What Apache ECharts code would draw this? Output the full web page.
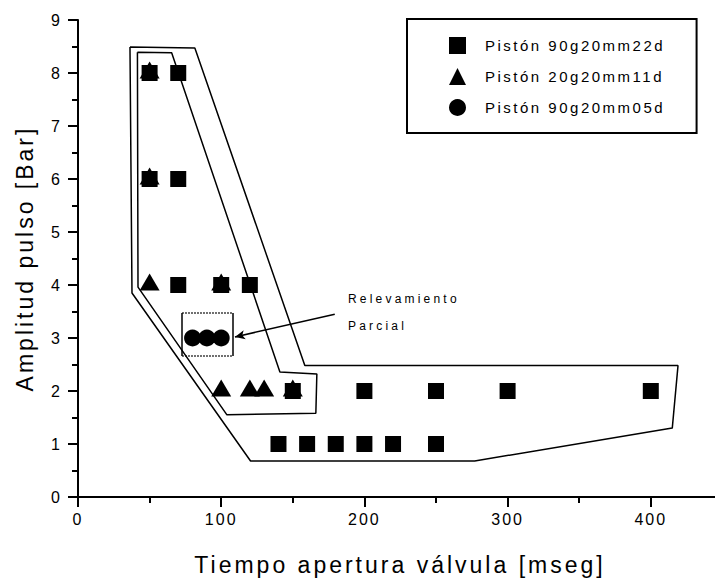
<!DOCTYPE html>
<html>
<head>
<meta charset="utf-8">
<script src="https://cdn.jsdelivr.net/npm/echarts@6/dist/echarts.min.js"></script>
<style>
html, body { margin: 0; padding: 0; background: #fff; }
#main { width: 715px; height: 585px; }
/* el grafico original (Origin) tiene el texto muy espaciado */
#main text { letter-spacing: 2px; }
#main text[style*="12px"] { letter-spacing: 3.2px; }
#main text[style*="15px"] { letter-spacing: 2.5px; }
#main text[style*="23px"] { letter-spacing: 3px; }
</style>
</head>
<body>
<div id="main"></div>
<script>
// Pistón 90g20mm22d (cuadrados)
var squareX = [50, 70, 50, 70, 70, 100, 120, 150, 200, 250, 300, 400, 140, 160, 180, 200, 220, 250];
var squareY = [8, 8, 6, 6, 4, 4, 4, 2, 2, 2, 2, 2, 1, 1, 1, 1, 1, 1];
// Pistón 20g20mm11d (triangulos)
var triangleX = [50, 50, 50, 100, 100, 120, 130, 150];
var triangleY = [8, 6, 4, 4, 2, 2, 2, 2];
// Pistón 90g20mm05d (circulos)
var circleX = [80, 90, 100];
var circleY = [3, 3, 3];

var seriesNames = ['Pistón 90g20mm22d', 'Pistón 20g20mm11d', 'Pistón 90g20mm05d'];

// envolventes dibujadas a mano
var outerX = [36.3, 81.6, 158.4, 419, 415, 277, 120.5, 37.7, 36.3];
var outerY = [8.49, 8.47, 2.48, 2.48, 1.30, 0.68, 0.68, 3.85, 8.49];
var innerX = [41.5, 65.4, 141, 166.8, 166.1, 104, 41.9, 41.5];
var innerY = [8.39, 8.38, 2.36, 2.32, 1.58, 1.55, 3.96, 8.39];

// recuadro punteado y flecha del "Relevamiento Parcial"
var boxX = [72.8, 108.4];
var boxY = [2.66, 3.47];
var arrowX = [179.3, 109.6];
var arrowY = [3.45, 3.02];

var fontFamily = 'Liberation Sans, Arial, sans-serif';

function zip(xs, ys) {
    var out = [];
    for (var i = 0; i < xs.length; i++) {
        out.push([xs[i], ys[i]]);
    }
    return out;
}

var myChart = echarts.init(document.getElementById('main'), null, { renderer: 'svg' });

var axisCommon = {
    axisLine: { lineStyle: { color: '#000', width: 2 } },
    axisTick: { length: 10, lineStyle: { color: '#000', width: 2 } },
    minorTick: { show: true, splitNumber: 2, length: 6, lineStyle: { color: '#000', width: 2 } },
    splitLine: { show: false }
};

var option = {
    backgroundColor: '#fff',
    animation: false,
    textStyle: { fontFamily: fontFamily, color: '#000' },
    // el eje x sigue mas alla del borde derecho, como en la figura recortada
    grid: { left: 78, top: 20, width: 716, height: 477, outerBoundsMode: 'none', containLabel: false },
    xAxis: Object.assign({
        type: 'value',
        min: 0,
        max: 500,
        interval: 100,
        name: 'Tiempo apertura válvula [mseg]',
        nameLocation: 'middle',
        nameGap: 56,
        // padding a la derecha para centrar el titulo en la parte visible
        nameTextStyle: { fontSize: 23, color: '#000', fontFamily: fontFamily, padding: [0, 72, 0, 0] },
        axisLabel: {
            fontSize: 16, color: '#000', margin: 14,
            formatter: function (v) {
                return v <= 400 ? String(v) : '';
            }
        }
    }, axisCommon),
    yAxis: Object.assign({
        type: 'value',
        min: 0,
        max: 9,
        interval: 1,
        name: 'Amplitud pulso [Bar]',
        nameLocation: 'middle',
        nameRotate: 90,
        nameGap: 42,
        nameTextStyle: { fontSize: 23, color: '#000', fontFamily: fontFamily },
        axisLabel: { fontSize: 16, color: '#000', margin: 16 }
    }, axisCommon),
    legend: {
        data: seriesNames,
        orient: 'vertical',
        left: 407,
        top: 19,
        itemWidth: 17,
        itemHeight: 17,
        itemGap: 14,
        padding: [18, 74, 17, 42],
        borderColor: '#000',
        borderWidth: 2,
        textStyle: { fontSize: 15, color: '#000', fontFamily: fontFamily, padding: [0, 0, 0, 14] }
    },
    graphic: [{
        type: 'text',
        left: 348,
        top: 285,
        style: {
            text: 'Relevamiento\nParcial',
            fontSize: 12,
            lineHeight: 27,
            fill: '#000',
            fontFamily: fontFamily
        }
    }],
    series: [{
        type: 'line',
        name: 'envolvente exterior',
        data: zip(outerX, outerY),
        symbol: 'none',
        silent: true,
        lineStyle: { color: '#000', width: 1.5 }
    }, {
        type: 'line',
        name: 'envolvente interior',
        data: zip(innerX, innerY),
        symbol: 'none',
        silent: true,
        lineStyle: { color: '#000', width: 1.5 }
    }, {
        type: 'line',
        name: 'relevamiento',
        data: [],
        silent: true,
        markLine: {
            silent: true,
            symbol: 'none',
            label: { show: false },
            lineStyle: { color: '#000', width: 1.5, type: 'solid' },
            data: [
                [{ coord: [boxX[0], boxY[1]], lineStyle: { type: 'dotted' } }, { coord: [boxX[1], boxY[1]] }],
                [{ coord: [boxX[0], boxY[0]], lineStyle: { type: 'dotted' } }, { coord: [boxX[1], boxY[0]] }],
                [{ coord: [boxX[0], boxY[0]] }, { coord: [boxX[0], boxY[1]] }],
                [{ coord: [boxX[1], boxY[0]] }, { coord: [boxX[1], boxY[1]] }],
                [{ coord: [arrowX[0], arrowY[0]], symbol: 'none' },
                 { coord: [arrowX[1], arrowY[1]], symbol: 'arrow', symbolSize: [7, 10] }]
            ]
        }
    }, {
        type: 'scatter',
        name: seriesNames[0],
        data: zip(squareX, squareY),
        symbol: 'rect',
        symbolSize: 16,
        itemStyle: { color: '#000', opacity: 1 }
    }, {
        type: 'scatter',
        name: seriesNames[1],
        data: zip(triangleX, triangleY),
        symbol: 'triangle',
        symbolSize: [20, 17],
        // Origin centra el triangulo en su baricentro
        symbolOffset: [0, -3],
        itemStyle: { color: '#000', opacity: 1 }
    }, {
        type: 'scatter',
        name: seriesNames[2],
        data: zip(circleX, circleY),
        symbol: 'circle',
        symbolSize: 17,
        itemStyle: { color: '#000', opacity: 1 }
    }]
};

myChart.setOption(option);
</script>
</body>
</html>
